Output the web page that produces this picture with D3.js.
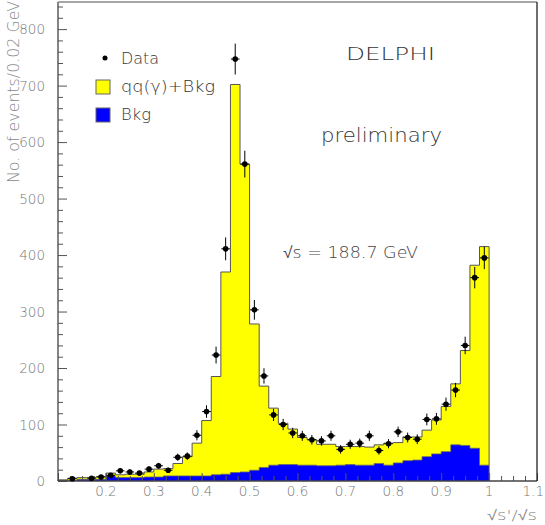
<!DOCTYPE html>
<html><head><meta charset="utf-8">
<script src="https://cdn.jsdelivr.net/npm/d3@7"></script>
<style>
html,body{margin:0;padding:0;background:#fff;}
svg{display:block;font-family:"DejaVu Sans","Liberation Sans",Arial,sans-serif;font-weight:200;}
</style></head>
<body>
<svg id="c" width="545" height="525"></svg>
<script>
// bin lower edges (sqrt(s')/sqrt(s)), bin width 0.02
const binLow = [0.10,0.12,0.14,0.16,0.18,0.20,0.22,0.24,0.26,0.28,0.30,0.32,0.34,0.36,0.38,
  0.40,0.42,0.44,0.46,0.48,0.50,0.52,0.54,0.56,0.58,0.60,0.62,0.64,0.66,0.68,
  0.70,0.72,0.74,0.76,0.78,0.80,0.82,0.84,0.86,0.88,0.90,0.92,0.94,0.96,0.98];
const binWidth = 0.02;
// qq(gamma)+Bkg Monte Carlo total
const mcTotal = [2,5,6,6,8,14,11,12,12,16,21,22,31,43,67,107,185,370,702,561,
  278,168,129,102,92,77,73,65,65,61,61,61,60,64,67,68,78,78,90,108,132,172,231,382,415];
// background
const bkg = [1,1,3,3,3,9,6,6,6,7,7,9,9,9,9,9,11,12,15,16,19,24,28,29,29,28,28,27,27,28,
  29,28,28,31,28,32,36,37,43,48,52,64,63,58,28];
// data (null = no entry)
const dataVals = [null,4,null,5,7,10,18,16,14,21,27,19,42,44,81,123,223,411,747,561,
  303,186,117,100,85,80,73,71,80,56,65,67,80,54,66,87,77,74,109,110,136,161,240,360,395];
const xTickLabels = ["0.2","0.3","0.4","0.5","0.6","0.7","0.8","0.9","1","1.1"];
const xTickVals = [0.2,0.3,0.4,0.5,0.6,0.7,0.8,0.9,1.0,1.1];
const yTickVals = [0,100,200,300,400,500,600,700,800];

const svg = d3.select("#c");
const L = 58, R = 537, T = 2, B = 481;
const x = d3.scaleLinear().domain([0.1, 1.1]).range([L, R]);
const y = d3.scaleLinear().domain([0, 848]).range([B, T]);

function stepArea(vals) {
  const pts = [];
  binLow.forEach((lo, i) => {
    pts.push([lo, vals[i]]);
    pts.push([lo + binWidth, vals[i]]);
  });
  return pts;
}
const area = d3.area().x(d => x(d[0])).y0(y(0)).y1(d => y(d[1]));
const line = d3.line().x(d => x(d[0])).y(d => y(d[1]));

const totPts = stepArea(mcTotal);
svg.append("path").attr("d", area(totPts)).attr("fill", "#ffff00");
const bkgPts = stepArea(bkg);
svg.append("path").attr("d", area(bkgPts)).attr("fill", "#0000ff");
const totOutline = [[binLow[0], 0]].concat(totPts).concat([[binLow[binLow.length-1]+binWidth, 0]]);
svg.append("path").attr("d", line(totOutline)).attr("fill", "none").attr("stroke", "#555").attr("stroke-width", 1);
svg.append("path").attr("d", line(bkgPts)).attr("fill", "none").attr("stroke", "#666").attr("stroke-width", 0.8);

// axes ticks
const yAxisG = svg.append("g").attr("transform", `translate(${L},0)`);
yAxisG.call(d3.axisRight(y).tickValues(d3.range(0, 848, 20)).tickSize(5).tickFormat(""));
yAxisG.call(g => g.selectAll(".tick line").filter(d => d % 100 === 0).attr("x2", 9));
yAxisG.selectAll(".domain").remove();
yAxisG.selectAll("line").attr("stroke", "#555");
svg.append("g").selectAll("text").data(yTickVals).join("text")
  .attr("x", 45).attr("y", d => y(d) + 5).attr("text-anchor", "end")
  .attr("font-size", 13.5).attr("fill", "#777").text(d => d);

const xAxisG = svg.append("g").attr("transform", `translate(0,${B})`);
xAxisG.call(d3.axisTop(x).tickValues(d3.range(0.1, 1.1001, 0.025)).tickSize(5).tickFormat(""));
xAxisG.call(g => g.selectAll(".tick line").filter(d => Math.abs(d*10 - Math.round(d*10)) < 1e-6).attr("y2", -8));
xAxisG.selectAll(".domain").remove();
xAxisG.selectAll("line").attr("stroke", "#555");
svg.append("g").selectAll("text").data(xTickVals).join("text")
  .attr("x", (d, i) => i === xTickVals.length - 1 ? 544 : x(d))
  .attr("y", 496)
  .attr("text-anchor", (d, i) => i === xTickVals.length - 1 ? "end" : "middle")
  .attr("font-size", 13.5).attr("fill", "#777").text((d, i) => xTickLabels[i]);

// frame
svg.append("line").attr("x1", L).attr("x2", L).attr("y1", T).attr("y2", B).attr("stroke", "#444").attr("stroke-width", 1.3);
svg.append("line").attr("x1", L).attr("x2", R).attr("y1", B).attr("y2", B).attr("stroke", "#444").attr("stroke-width", 1.3);
svg.append("line").attr("x1", L).attr("x2", R).attr("y1", T).attr("y2", T).attr("stroke", "#888").attr("stroke-width", 1.3);
svg.append("line").attr("x1", R).attr("x2", R).attr("y1", T).attr("y2", B).attr("stroke", "#222").attr("stroke-width", 1.3);

// data points
const pts = binLow.map((lo, i) => ({c: lo + binWidth / 2, v: dataVals[i]})).filter(d => d.v !== null);
const dg = svg.append("g");
dg.selectAll("line.ey").data(pts).join("line").attr("class", "ey")
  .attr("x1", d => x(d.c)).attr("x2", d => x(d.c))
  .attr("y1", d => y(d.v + Math.sqrt(d.v))).attr("y2", d => y(d.v - Math.sqrt(d.v)))
  .attr("stroke", "#000").attr("stroke-width", 1);
dg.selectAll("line.ex").data(pts).join("line").attr("class", "ex")
  .attr("x1", d => x(d.c - 0.009)).attr("x2", d => x(d.c + 0.009))
  .attr("y1", d => y(d.v)).attr("y2", d => y(d.v))
  .attr("stroke", "#000").attr("stroke-width", 1);
dg.selectAll("circle").data(pts).join("circle")
  .attr("cx", d => x(d.c)).attr("cy", d => y(d.v)).attr("r", 2.8).attr("fill", "#000");

function txt(str, x0, yb, size, fill, len) {
  const t = svg.append("text").attr("x", x0).attr("y", yb).attr("font-size", size).attr("fill", fill).text(str);
  if (len) t.attr("textLength", len).attr("lengthAdjust", "spacingAndGlyphs");
  return t;
}

// legend
svg.append("circle").attr("cx", 105).attr("cy", 58).attr("r", 2.5).attr("fill", "#000");
txt("Data", 121, 64, 15.5, "#333", 38);
svg.append("rect").attr("x", 96).attr("y", 80).attr("width", 14).attr("height", 14).attr("fill", "#ffff00").attr("stroke", "#666");
txt("qq(γ)+Bkg", 121, 92, 15.5, "#333", 94);
svg.append("rect").attr("x", 96).attr("y", 108).attr("width", 14).attr("height", 14).attr("fill", "#0000ff").attr("stroke", "#666");
txt("Bkg", 121, 120, 15.5, "#333", 30);

// annotations
txt("DELPHI", 346, 60, 18.5, "#333", 89);
txt("preliminary", 321, 142, 19, "#333", 121);
txt("√s = 188.7 GeV", 283, 258, 16, "#444", 135);

// axis titles
svg.append("text").attr("transform", "translate(19,183) rotate(-90)")
  .attr("font-size", 15).attr("fill", "#888")
  .attr("textLength", 182).attr("lengthAdjust", "spacingAndGlyphs")
  .text("No. of events/0.02 GeV");
txt("√s'/√s", 487, 520, 14, "#888", 50);
</script>
</body></html>
